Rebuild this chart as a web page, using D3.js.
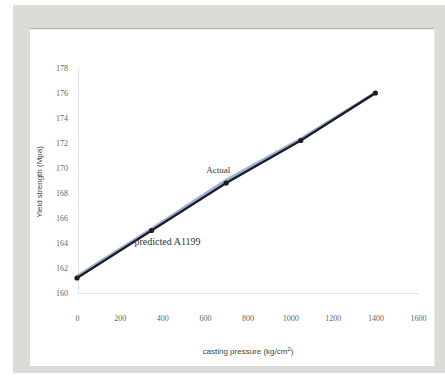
<!DOCTYPE html>
<html><head><meta charset="utf-8">
<script src="https://cdn.jsdelivr.net/npm/d3@7"></script>
<style>body{margin:0;background:#fff}svg{display:block}</style>
</head><body>
<script>
const pressure = [0, 350, 700, 1050, 1400];
const actual = [161.3, 165.1, 169.0, 172.3, 176.0];
const predicted = [161.2, 165.0, 168.8, 172.2, 176.0];
const xTicks = [0, 200, 400, 600, 800, 1000, 1200, 1400, 1600];
const yTicks = [160, 162, 164, 166, 168, 170, 172, 174, 176, 178];

const W = 445, H = 385;
const svg = d3.select("body").append("svg").attr("width", W).attr("height", H);
// outer frame
svg.append("rect").attr("x",0).attr("y",0).attr("width",W).attr("height",H).attr("fill","#ffffff");
svg.append("rect").attr("x",13).attr("y",5).attr("width",432).attr("height",368).attr("fill","#dcdcd6");
svg.append("rect").attr("x",30).attr("y",28).attr("width",404).attr("height",338).attr("fill","#ffffff");
svg.append("line").attr("x1",30).attr("x2",434).attr("y1",28.5).attr("y2",28.5).attr("stroke","#b8b8b2").attr("stroke-width",1.5);
svg.append("line").attr("x1",434.5).attr("x2",434.5).attr("y1",28).attr("y2",366).attr("stroke","#e8e8e4");

const x = d3.scaleLinear().domain([0,1600]).range([77,418]);
const y = d3.scaleLinear().domain([160,178]).range([293,68]);

const gx = svg.append("g").attr("transform","translate(0,293)")
  .call(d3.axisBottom(x).tickValues(xTicks).tickSize(0).tickPadding(22).tickFormat(d3.format("d")));
gx.select(".domain").attr("stroke","#dde3ea");
gx.selectAll("text").attr("fill","#666").style("font-family","Liberation Serif, serif").style("font-size","8px");

const gy = svg.append("g").attr("transform","translate(78,0)")
  .call(d3.axisLeft(y).tickValues(yTicks).tickSize(0).tickPadding(10).tickFormat(d3.format("d")));
gy.select(".domain").attr("stroke","#e2e2e2");
gy.selectAll("text").attr("fill","#666").style("font-family","Liberation Serif, serif").style("font-size","8px");

const line = d3.line().x((d,i)=>x(pressure[i])).y(d=>y(d));
svg.append("path").datum(actual).attr("d",line).attr("fill","none").attr("stroke","#6f8fc0").attr("stroke-width",3.5).attr("opacity",0.7);
svg.append("path").datum(predicted).attr("d",line).attr("fill","none").attr("stroke","#1c1c24").attr("stroke-width",2.2);
svg.selectAll("circle.p").data(predicted).enter().append("circle")
  .attr("cx",(d,i)=>x(pressure[i])).attr("cy",d=>y(d)).attr("r",2.6).attr("fill","#1c1c24");

svg.append("text").attr("x",x(700)-8).attr("y",y(169.6)).attr("text-anchor","middle")
  .style("font-family","Liberation Serif, serif").style("font-size","9px").attr("fill","#333").text("Actual");
svg.append("text").attr("x",x(270)).attr("y",y(164)+2).attr("text-anchor","start")
  .style("font-family","Liberation Serif, serif").style("font-size","10px").attr("fill","#333").text("predicted A1199");

svg.append("text").attr("transform","translate(42,182) rotate(-90)").attr("text-anchor","middle")
  .style("font-family","Liberation Sans, sans-serif").style("font-size","8px").attr("fill","#444").text("Yield strength (Mpa)");
const xt = svg.append("text").attr("x",248).attr("y",354).attr("text-anchor","middle")
  .style("font-family","Liberation Sans, sans-serif").style("font-size","8px").attr("fill","#444");
xt.append("tspan").text("casting pressure (kg/cm");
xt.append("tspan").attr("dy",-3).style("font-size","6px").text("2");
xt.append("tspan").attr("dy",3).text(")");
</script>
</body></html>
